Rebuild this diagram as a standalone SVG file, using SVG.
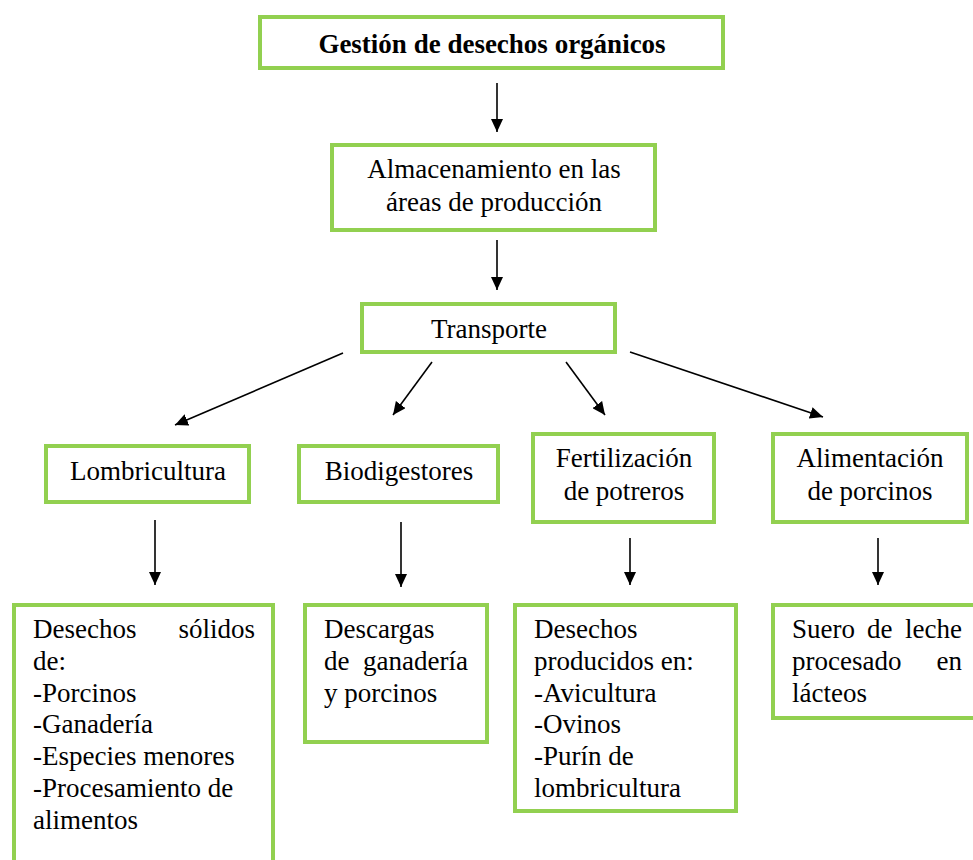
<svg xmlns="http://www.w3.org/2000/svg" width="973" height="860" viewBox="0 0 973 860">
<defs>
<style>
.box{fill:#fff;stroke:#92D050;stroke-width:4}
.t{font-family:"Liberation Serif","Times New Roman",serif;font-size:27px;fill:#000}
.c{text-anchor:middle}
.e{text-anchor:end}
.b{font-weight:bold}
.ln{stroke:#000;stroke-width:1.6;fill:none;marker-end:url(#ah)}
</style>
<marker id="ah" markerWidth="14" markerHeight="12" refX="13" refY="6" orient="auto" markerUnits="userSpaceOnUse">
<path d="M0,0 L13,6 L0,12 Z" fill="#000"/>
</marker>
</defs>
<rect width="973" height="860" fill="#fff"/>
<g id="connectors">
<line class="ln" x1="497" y1="83" x2="497" y2="132"/>
<line class="ln" x1="497" y1="240" x2="497" y2="290"/>
<line class="ln" x1="343" y1="353" x2="175" y2="425"/>
<line class="ln" x1="432" y1="362" x2="393" y2="415"/>
<line class="ln" x1="566" y1="362" x2="605" y2="415"/>
<line class="ln" x1="630" y1="352" x2="823" y2="417"/>
<line class="ln" x1="155" y1="520" x2="155" y2="585"/>
<line class="ln" x1="401" y1="522" x2="401" y2="587"/>
<line class="ln" x1="630" y1="538" x2="630" y2="585"/>
<line class="ln" x1="878" y1="538" x2="878" y2="585"/>
</g>
<g id="n-gestion">
<rect class="box" x="260" y="17" width="463" height="51"/>
<text class="t c b" x="492" y="53">Gestión de desechos orgánicos</text>
</g>
<g id="n-almacenamiento">
<rect class="box" x="332" y="145" width="323" height="85"/>
<text class="t c" x="494" y="178">Almacenamiento en las</text>
<text class="t c" x="494" y="211">áreas de producción</text>
</g>
<g id="n-transporte">
<rect class="box" x="362" y="304" width="253" height="48"/>
<text class="t c" x="489" y="338">Transporte</text>
</g>
<g id="n-lombricultura">
<rect class="box" x="46" y="446" width="203" height="56"/>
<text class="t c" x="148" y="480">Lombricultura</text>
</g>
<g id="n-biodigestores">
<rect class="box" x="299" y="446" width="199" height="56"/>
<text class="t c" x="399" y="480">Biodigestores</text>
</g>
<g id="n-fertilizacion">
<rect class="box" x="533" y="434" width="181" height="88"/>
<text class="t c" x="624" y="467">Fertilización</text>
<text class="t c" x="624" y="500">de potreros</text>
</g>
<g id="n-alimentacion">
<rect class="box" x="773" y="434" width="194" height="88"/>
<text class="t c" x="870" y="467">Alimentación</text>
<text class="t c" x="870" y="500">de porcinos</text>
</g>
<g id="n-solidos">
<rect class="box" x="14" y="605" width="259" height="270"/>
<text class="t" x="33" y="638">Desechos</text>
<text class="t e" x="255" y="638">sólidos</text>
<text class="t" x="33" y="670">de:</text>
<text class="t" x="33" y="702">-Porcinos</text>
<text class="t" x="33" y="733">-Ganadería</text>
<text class="t" x="33" y="765">-Especies menores</text>
<text class="t" x="33" y="797">-Procesamiento de</text>
<text class="t" x="33" y="829">alimentos</text>
</g>
<g id="n-descargas">
<rect class="box" x="305" y="605" width="182" height="137"/>
<text class="t" x="324" y="638">Descargas</text>
<text class="t" x="324" y="670">de</text>
<text class="t e" x="468" y="670">ganadería</text>
<text class="t" x="324" y="702">y porcinos</text>
</g>
<g id="n-producidos">
<rect class="box" x="515" y="605" width="221" height="206"/>
<text class="t" x="534" y="638">Desechos</text>
<text class="t" x="534" y="670">producidos en:</text>
<text class="t" x="534" y="702">-Avicultura</text>
<text class="t" x="534" y="733">-Ovinos</text>
<text class="t" x="534" y="765">-Purín de</text>
<text class="t" x="534" y="797">lombricultura</text>
</g>
<g id="n-suero">
<rect class="box" x="773" y="605" width="220" height="113"/>
<text class="t" x="792" y="638">Suero</text>
<text class="t" x="867" y="638">de</text>
<text class="t e" x="962" y="638">leche</text>
<text class="t" x="792" y="670">procesado</text>
<text class="t e" x="962" y="670">en</text>
<text class="t" x="792" y="702">lácteos</text>
</g>
</svg>
